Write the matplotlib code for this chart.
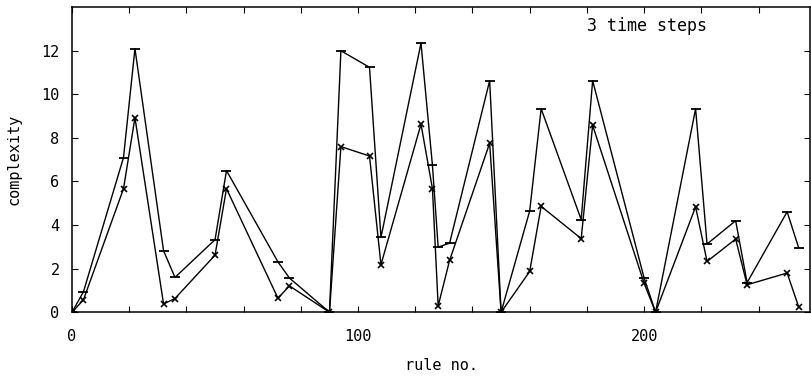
#!/usr/bin/env python3
"""
Complexity of the 32 legal elementary CA rules after 3 time steps.
"""

import matplotlib
matplotlib.use("Agg")
import matplotlib.pyplot as plt
from matplotlib.ticker import MultipleLocator

# rule numbers (x) and the two complexity curves
rules = [0, 4, 18, 22, 32, 36, 50, 54, 72, 76, 90, 94, 104, 108, 122, 126,
         128, 132, 146, 150, 160, 164, 178, 182, 200, 204, 218, 222, 232, 236, 250, 254]
upper = [0, 0.94, 7.1, 12.1, 2.82, 1.6, 3.33, 6.5, 2.31, 1.57, 0, 12.0, 11.24, 3.43, 12.35, 6.74,
         2.99, 3.17, 10.63, 0, 4.65, 9.34, 4.25, 10.63, 1.57, 0, 9.34, 3.13, 4.2, 1.36, 4.61, 2.97]
lower = [0, 0.57, 5.67, 8.93, 0.38, 0.63, 2.62, 5.67, 0.64, 1.21, 0, 7.6, 7.17, 2.18, 8.63, 5.67,
         0.29, 2.38, 7.76, 0, 1.87, 4.86, 3.38, 8.58, 1.33, 0, 4.84, 2.33, 3.36, 1.26, 1.8, 0.26]
y_ticks = [0, 2, 4, 6, 8, 10, 12]

font = "DejaVu Sans Mono"

fig = plt.figure(figsize=(8.11, 3.78), dpi=100)
ax = fig.add_axes([0.0888, 0.174, 0.910, 0.807])

ax.plot(rules, upper, color="black", lw=1.0, marker="_", ms=7, mew=1.3)
ax.plot(rules, lower, color="black", lw=1.0, marker="x", ms=5, mew=1.2)

ax.set_xlim(0, 258)
ax.set_ylim(0, 14)

ax.xaxis.set_major_locator(MultipleLocator(100))
ax.xaxis.set_minor_locator(MultipleLocator(20))
ax.set_yticks(y_ticks)
ax.tick_params(which="both", direction="in", top=True, right=True, length=4, width=0.8)
ax.tick_params(axis="x", pad=12)
ax.tick_params(axis="y", pad=9)

for lab in ax.get_xticklabels() + ax.get_yticklabels():
    lab.set_fontfamily(font)
    lab.set_fontsize(11)

ax.set_xlabel("rule no.", fontfamily=font, fontsize=11, labelpad=10)
ax.set_ylabel("complexity", fontfamily=font, fontsize=11, labelpad=14)

ax.text(180, 13.15, "3 time steps", fontfamily=font, fontsize=12, va="center", ha="left")

for s in ax.spines.values():
    s.set_linewidth(1.1)

fig.savefig("out.png", dpi=100)
